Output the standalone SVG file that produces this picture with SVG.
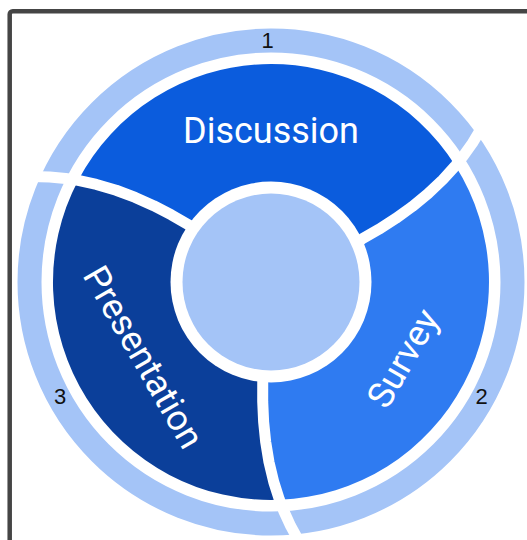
<svg xmlns="http://www.w3.org/2000/svg" width="527" height="540" viewBox="0 0 527 540">
<defs>
<style>
.seg-d{fill:#0b5cdd}
.seg-s{fill:#2f7bf1}
.seg-p{fill:#0b3f9a}
.light{fill:#a4c4f7}
.ring{fill:none;stroke:#a4c4f7;stroke-width:24}
.sep{fill:none;stroke:#ffffff;stroke-width:11;stroke-linejoin:round}
.lbl{font-family:Roboto,"Liberation Sans",sans-serif;font-size:36px;fill:#ffffff;text-anchor:middle}
.num{font-family:"Liberation Sans",Arial,sans-serif;font-size:22px;fill:#111111;text-anchor:middle}
</style>
</defs>
<rect x="0" y="0" width="527" height="540" fill="#ffffff"/>
<rect x="9.7" y="11.2" width="600" height="600" rx="3" fill="none" stroke="#454545" stroke-width="4.5"/>
<g id="ring">
<circle class="ring" cx="271" cy="282" r="241.5"/>
</g>
<g id="node-discussion">
<path class="seg-d" d="M197.32,230.32 L187.97,224.50 171.47,214.97 153.62,205.70 135.19,197.42 116.15,190.24 96.42,184.40 78.11,180.39 A218 218 0 0 1 455.43,165.78 L442.82,179.62 427.89,193.76 412.15,206.66 395.77,218.48 378.82,229.32 362.31,238.83 352.6,244.05 A90 90 0 0 0 197.32,230.32 Z"/>
</g>
<g id="node-survey">
<path class="seg-s" d="M352.6,244.05 L362.31,238.83 378.82,229.32 395.77,218.48 412.15,206.66 427.89,193.76 442.82,179.62 455.43,165.78 A218 218 0 0 1 279.45,499.84 L273.76,481.98 268.96,461.99 265.67,441.91 263.62,421.81 262.71,401.71 262.73,382.66 263.06,371.65 A90 90 0 0 0 352.6,244.05 Z"/>
</g>
<g id="node-presentation">
<path class="seg-p" d="M263.06,371.65 L262.73,382.66 262.71,401.71 263.62,421.81 265.67,441.91 268.96,461.99 273.76,481.98 279.45,499.84 A218 218 0 0 1 78.11,180.39 L96.42,184.40 116.15,190.24 135.19,197.42 153.62,205.70 171.47,214.97 187.97,224.50 197.32,230.32 A90 90 0 0 0 263.06,371.65 Z"/>
</g>
<g id="separators">
<polyline class="sep" points="352.6,244.05 362.31,238.83 378.82,229.32 395.77,218.48 412.15,206.66 427.89,193.76 442.82,179.62 455.43,165.78 463.35,155.89 472.61,142.84 482.20,126.95"/>
<polyline class="sep" points="263.06,371.65 262.73,382.66 262.71,401.71 263.62,421.81 265.67,441.91 268.96,461.99 273.76,481.98 279.45,499.84 284.04,511.63 290.73,526.20 299.66,542.43"/>
<polyline class="sep" points="197.32,230.32 187.97,224.50 171.47,214.97 153.62,205.70 135.19,197.42 116.15,190.24 96.42,184.40 78.11,180.39 65.61,178.48 49.67,176.97 31.11,176.60"/>
</g>
<g id="node-center">
<circle cx="271" cy="282" r="100.5" fill="#ffffff"/>
<circle class="light" cx="271" cy="282" r="88.5"/>
</g>
<g id="labels">
<text class="lbl" x="271" y="143">Discussion</text>
<text class="lbl" transform="translate(402.5,358) rotate(-60)" x="0" y="12.8">Survey</text>
<text class="lbl" transform="translate(144,357) rotate(60)" x="0" y="12.8">Presentation</text>
<text class="num" x="267.5" y="48">1</text>
<text class="num" x="481.5" y="404">2</text>
<text class="num" x="60" y="404">3</text>
</g>
</svg>
